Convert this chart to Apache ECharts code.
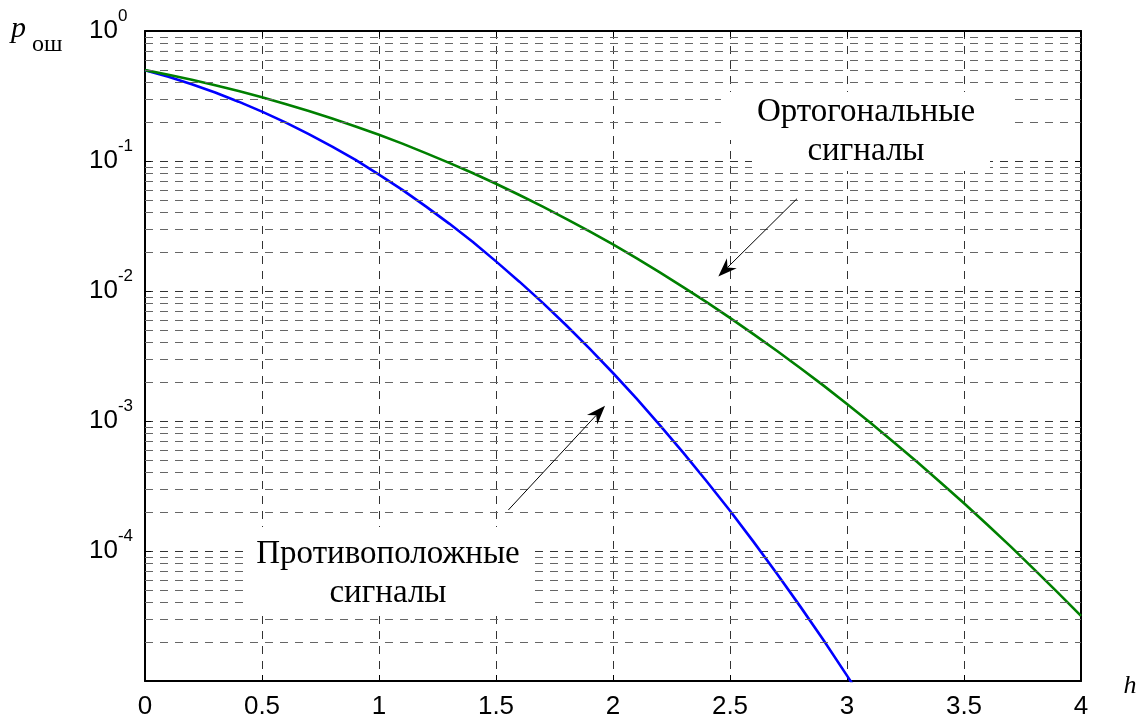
<!DOCTYPE html>
<html>
<head>
<meta charset="utf-8">
<script src="https://cdn.jsdelivr.net/npm/echarts@6/dist/echarts.min.js"></script>
<style>
html, body { margin: 0; padding: 0; background: #fff; }
#chart { width: 1143px; height: 720px; }
</style>
</head>
<body>
<div id="chart"></div>
<script>
// h = 0 .. 4 step 0.1
var h_values = [0, 0.1, 0.2, 0.3, 0.4, 0.5, 0.6, 0.7, 0.8, 0.9,
    1.0, 1.1, 1.2, 1.3, 1.4, 1.5, 1.6, 1.7, 1.8, 1.9,
    2.0, 2.1, 2.2, 2.3, 2.4, 2.5, 2.6, 2.7, 2.8, 2.9,
    3.0, 3.1, 3.2, 3.3, 3.4, 3.5, 3.6, 3.7, 3.8, 3.9, 4.0];

// Ортогональные сигналы (green)
var orthogonal = [0.5, 0.460, 0.421, 0.382, 0.345, 0.309, 0.274, 0.242, 0.212, 0.184,
    0.159, 0.136, 0.115, 0.0968, 0.0808, 0.0668, 0.0548, 0.0446, 0.0359, 0.0287,
    0.0228, 0.0179, 0.0139, 0.0107, 0.00820, 0.00621, 0.00466, 0.00347, 0.00256, 0.00187,
    0.00135, 0.000968, 0.000687, 0.000483, 0.000337, 0.000233, 0.000159, 0.000108, 0.0000723, 0.0000481,
    0.0000317];

// Противоположные сигналы (blue)
var antipodal = [0.5, 0.444, 0.389, 0.336, 0.286, 0.240, 0.198, 0.161, 0.129, 0.102,
    0.0786, 0.0599, 0.0448, 0.0330, 0.0239, 0.0169, 0.0118, 0.00810, 0.00545, 0.00360,
    0.00234, 0.00149, 0.000931, 0.000571, 0.000344, 0.000204, 0.000118, 0.0000672, 0.0000375, 0.0000206,
    0.0000110, 0.0000058];

var x_min = 0, x_max = 4, x_step = 0.5;
var y_min = 1e-5, y_max = 1;
var minor_mult = [2, 3, 4, 5, 6, 7, 8, 9];

var chart = echarts.init(document.getElementById('chart'));

var minor_lines = [];
for (var k = -5; k < 0; k++) {
    for (var m = 0; m < minor_mult.length; m++) {
        minor_lines.push({yAxis: minor_mult[m] * Math.pow(10, k)});
    }
}

function pairs(ys) {
    return ys.map(function (v, i) { return [h_values[i], v]; });
}

var axis_line = {show: true, onZero: false, lineStyle: {color: '#000', width: 2}};
var dash = [8, 7];
var label_font = 'Liberation Sans';

chart.setOption({
    animation: false,
    backgroundColor: '#fff',
    grid: {left: 145, right: 62, top: 31, bottom: 35},
    xAxis: [
        {
            type: 'value', min: x_min, max: x_max, interval: x_step, position: 'bottom',
            axisLine: axis_line,
            axisTick: {inside: true, length: 6, lineStyle: {color: '#000', width: 1}},
            axisLabel: {color: '#000', fontFamily: label_font, fontSize: 26, margin: 13},
            splitLine: {show: true, lineStyle: {color: '#333', width: 1, type: dash}}
        },
        {
            type: 'value', min: x_min, max: x_max, interval: x_step, position: 'top',
            axisLine: axis_line,
            axisTick: {inside: true, length: 6, lineStyle: {color: '#000', width: 1}},
            axisLabel: {show: false},
            splitLine: {show: false}
        }
    ],
    yAxis: [
        {
            type: 'log', logBase: 10, min: y_min, max: y_max, position: 'left',
            axisLine: axis_line,
            axisTick: {inside: true, length: 6, lineStyle: {color: '#000', width: 1}},
            axisLabel: {
                align: 'left',
                margin: 56,
                showMinLabel: true,
                showMaxLabel: true,
                formatter: function (v) {
                    var e = Math.round(Math.log(v) / Math.LN10);
                    if (e < -4) return '';
                    return '{b|10}{sup|' + e + '}';
                },
                rich: {
                    b: {fontFamily: label_font, fontSize: 26, lineHeight: 26, color: '#000'},
                    sup: {fontFamily: label_font, fontSize: 17, lineHeight: 17, color: '#000', padding: [0, 0, 29, 0]}
                }
            },
            splitLine: {show: true, lineStyle: {color: '#333', width: 1, type: dash}}
        },
        {
            type: 'log', logBase: 10, min: y_min, max: y_max, position: 'right',
            axisLine: axis_line,
            axisTick: {inside: true, length: 6, lineStyle: {color: '#000', width: 1}},
            axisLabel: {show: false},
            splitLine: {show: false}
        }
    ],
    series: [
        {
            name: 'grid',
            type: 'line',
            z: 1,
            silent: true,
            data: [[0, 0.5]],
            showSymbol: false,
            lineStyle: {opacity: 0},
            markLine: {
                silent: true,
                precision: 12,
                symbol: ['none', 'none'],
                label: {show: false},
                lineStyle: {color: '#666', width: 1, type: dash},
                emphasis: {disabled: true},
                data: minor_lines
            }
        },
        {
            name: 'Противоположные сигналы',
            type: 'line',
            z: 3,
            data: pairs(antipodal),
            showSymbol: false,
            clip: true,
            lineStyle: {color: '#0000ff', width: 2.6, join: 'round'}
        },
        {
            name: 'Ортогональные сигналы',
            type: 'line',
            z: 3,
            data: pairs(orthogonal),
            showSymbol: false,
            clip: true,
            lineStyle: {color: '#008000', width: 2.6, join: 'round'}
        }
    ]
});

// annotation arrows, in data coordinates [h, p]
function arrow(tail, tip) {
    var t = chart.convertToPixel({gridIndex: 0}, tail);
    var p = chart.convertToPixel({gridIndex: 0}, tip);
    var dx = t[0] - p[0], dy = t[1] - p[1];
    var len = Math.sqrt(dx * dx + dy * dy);
    var ux = dx / len, uy = dy / len;
    var nx = -uy, ny = ux;
    var head = 19, half = 7, notch = 13;
    var base = [p[0] + ux * notch, p[1] + uy * notch];
    var b1 = [p[0] + ux * head + nx * half, p[1] + uy * head + ny * half];
    var b2 = [p[0] + ux * head - nx * half, p[1] + uy * head - ny * half];
    return [
        {type: 'line', z: 100, shape: {x1: t[0], y1: t[1], x2: base[0], y2: base[1]}, style: {stroke: '#000', lineWidth: 1}},
        {type: 'polygon', z: 100, shape: {points: [p, b1, base, b2]}, style: {fill: '#000'}}
    ];
}

var serif = '"Liberation Serif", "Times New Roman", serif';
var elements = [
    // white boxes behind the labels
    {type: 'rect', z: 90, shape: {x: 721, y: 92, width: 289, height: 48}, style: {fill: '#fff'}},
    {type: 'rect', z: 90, shape: {x: 752, y: 139, width: 238, height: 32}, style: {fill: '#fff'}},
    {type: 'rect', z: 90, shape: {x: 245, y: 527, width: 284, height: 85}, style: {fill: '#fff'}},
    {type: 'text', z: 100, style: {text: 'Ортогональные\nсигналы', x: 866, y: 132, fill: '#000',
        font: '33px ' + serif, lineHeight: 39, align: 'center', verticalAlign: 'middle'}},
    {type: 'text', z: 100, style: {text: 'Противоположные\nсигналы', x: 388, y: 574, fill: '#000',
        font: '33px ' + serif, lineHeight: 39, align: 'center', verticalAlign: 'middle'}},
    {type: 'text', z: 100, style: {text: 'p', x: 11, y: 29, fill: '#000',
        font: 'italic 30px ' + serif, align: 'left', verticalAlign: 'middle'}},
    {type: 'text', z: 100, style: {text: 'ош', x: 32, y: 45, fill: '#000',
        font: '24px ' + serif, align: 'left', verticalAlign: 'middle'}},
    {type: 'text', z: 100, style: {text: 'h', x: 1130, y: 686, fill: '#000',
        font: 'italic 26px ' + serif, align: 'center', verticalAlign: 'middle'}}
];
elements = elements.concat(arrow([2.786, 0.0512], [2.450, 0.0129]));
elements = elements.concat(arrow([1.553, 2.07e-4], [1.966, 1.31e-3]));

chart.setOption({graphic: {elements: elements}});
</script>
</body>
</html>
